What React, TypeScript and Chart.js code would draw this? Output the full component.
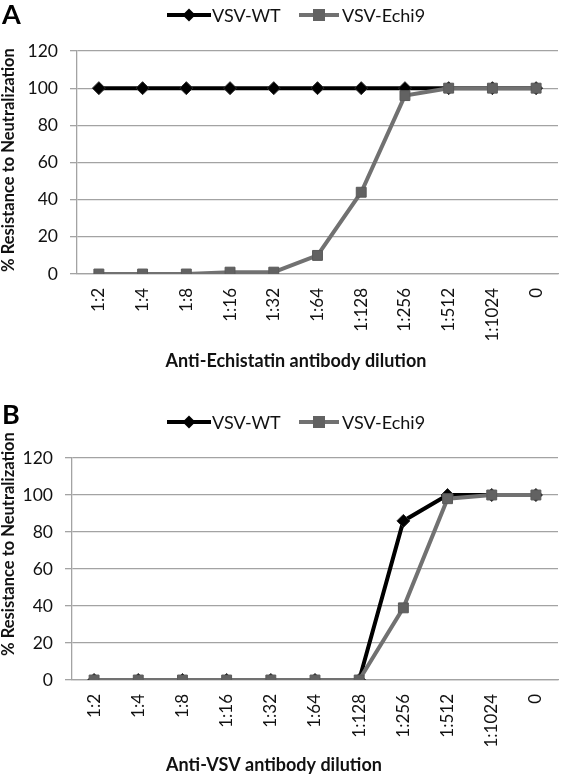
import React, { useEffect, useRef } from 'react';
import { Chart, registerables } from 'chart.js';

Chart.register(...registerables);

// ---- data ----
const categories = ['1:2', '1:4', '1:8', '1:16', '1:32', '1:64', '1:128', '1:256', '1:512', '1:1024', '0'];
const seriesNames = ['VSV-WT', 'VSV-Echi9'];
const panelA_wt = [100, 100, 100, 100, 100, 100, 100, 100, 100, 100, 100];
const panelA_echi9 = [0, 0, 0, 1, 1, 10, 44, 96, 100, 100, 100];
const panelB_wt = [0, 0, 0, 0, 0, 0, 0, 86, 100, 100, 100];
const panelB_echi9 = [0, 0, 0, 0, 0, 0, 0, 39, 98, 100, 100];
const yMin = 0;
const yMax = 120;
const yStep = 20;
const yTitle = '% Resistance to Neutralization';
const xTitleA = 'Anti-Echistatin antibody dilution';
const xTitleB = 'Anti-VSV antibody dilution';

const FONT = 'Lato, "Open Sans", "Liberation Sans", sans-serif';
const W = 566;
const GRID = '#a3a3a3';
const WT_COLOR = '#000000';
const ECHI_LINE = '#717171';
const ECHI_FILL = '#626262';

const headerPlugin = {
  id: 'header',
  afterDraw(chart: any, _args: any, opts: any) {
    const ctx = chart.ctx as CanvasRenderingContext2D;
    ctx.save();
    // panel letter
    ctx.fillStyle = '#000';
    ctx.font = `bold 27px ${FONT}`;
    ctx.textBaseline = 'alphabetic';
    ctx.textAlign = 'left';
    ctx.fillText(opts.letter, opts.letterX, opts.letterY);

    const y = opts.legendY;
    // WT legend item
    ctx.strokeStyle = WT_COLOR;
    ctx.lineWidth = 4;
    ctx.beginPath();
    ctx.moveTo(opts.wtX, y);
    ctx.lineTo(opts.wtX + 44, y);
    ctx.stroke();
    const dx = opts.wtX + 22;
    ctx.fillStyle = WT_COLOR;
    ctx.beginPath();
    ctx.moveTo(dx, y - 6.5);
    ctx.lineTo(dx + 6.5, y);
    ctx.lineTo(dx, y + 6.5);
    ctx.lineTo(dx - 6.5, y);
    ctx.closePath();
    ctx.fill();
    ctx.font = `18px ${FONT}`;
    ctx.fillStyle = '#111';
    ctx.textBaseline = 'middle';
    ctx.fillText(seriesNames[0], opts.wtX + 45, y + 1);

    // Echi9 legend item
    ctx.strokeStyle = ECHI_LINE;
    ctx.beginPath();
    ctx.moveTo(opts.echiX, y);
    ctx.lineTo(opts.echiX + 40, y);
    ctx.stroke();
    ctx.fillStyle = ECHI_FILL;
    ctx.fillRect(opts.echiX + 14, y - 6, 12, 12);
    ctx.fillStyle = '#111';
    ctx.fillText(seriesNames[1], opts.echiX + 43, y + 1);

    // x axis title
    ctx.font = `bold 18px ${FONT}`;
    ctx.textAlign = 'center';
    ctx.textBaseline = 'middle';
    ctx.fillText(opts.xTitle, opts.xTitleX, opts.xTitleY);

    // y axis title
    ctx.font = `bold 16.5px ${FONT}`;
    ctx.translate(opts.yTitleX, opts.yTitleY);
    ctx.rotate(-Math.PI / 2);
    ctx.fillText(yTitle, 0, 0);
    ctx.restore();
  },
};

type PanelProps = {
  letter: string;
  wt: number[];
  echi: number[];
  xTitle: string;
  height: number;
  area: { left: number; right: number; top: number; bottom: number };
  legendY: number;
  letterY: number;
  xTitleX: number;
  xTitleY: number;
  yTitleY: number;
};

function Panel(props: PanelProps) {
  const ref = useRef<HTMLCanvasElement | null>(null);
  useEffect(() => {
    if (!ref.current) return;
    const { area, height } = props;
    const chart = new Chart(ref.current, {
      type: 'line',
      data: {
        labels: categories,
        datasets: [
          {
            label: seriesNames[0],
            data: props.wt,
            borderColor: WT_COLOR,
            backgroundColor: WT_COLOR,
            borderWidth: 4,
            pointStyle: 'rectRot',
            pointRadius: 6.5,
            pointBorderWidth: 1,
            pointBorderColor: '#2a2a2a',
            pointBackgroundColor: WT_COLOR,
            tension: 0,
            order: 1,
          },
          {
            label: seriesNames[1],
            data: props.echi,
            borderColor: ECHI_LINE,
            backgroundColor: ECHI_FILL,
            borderWidth: 4,
            pointStyle: 'rect',
            pointRadius: 7,
            pointBorderWidth: 1,
            pointBorderColor: '#5a5a5a',
            pointBackgroundColor: ECHI_FILL,
            tension: 0,
            order: 0,
          },
        ],
      },
      options: {
        animation: false,
        responsive: false,
        devicePixelRatio: 1,
        events: [],
        layout: { padding: { top: area.top, right: W - area.right, left: 0, bottom: 0 } },
        plugins: {
          legend: { display: false },
          tooltip: { enabled: false },
          header: {
            letter: props.letter,
            letterX: 2,
            letterY: props.letterY,
            legendY: props.legendY,
            wtX: 167,
            echiX: 299,
            xTitle: props.xTitle,
            xTitleX: props.xTitleX,
            xTitleY: props.xTitleY,
            yTitleX: 9,
            yTitleY: props.yTitleY,
          },
        } as any,
        scales: {
          x: {
            type: 'category',
            offset: true,
            grid: { display: false, drawTicks: false },
            border: { display: true, color: GRID, width: 1.3 },
            ticks: {
              minRotation: 90,
              maxRotation: 90,
              autoSkip: false,
              padding: 14,
              color: '#111',
              font: { family: FONT, size: 17 },
            },
            title: { display: false },
            afterFit: (s: any) => {
              s.height = height - area.bottom;
              s.paddingLeft = 0;
              s.paddingRight = 0;
            },
          },
          y: {
            min: yMin,
            max: yMax,
            ticks: {
              stepSize: yStep,
              padding: 12,
              color: '#111',
              font: { family: FONT, size: 17.5 },
            },
            grid: { color: GRID, lineWidth: 1.3, tickLength: 7, drawTicks: true },
            border: { display: true, color: GRID, width: 1.3 },
            title: { display: false },
            afterFit: (s: any) => {
              s.width = area.left;
            },
          },
        },
      } as any,
      plugins: [headerPlugin as any],
    });
    return () => chart.destroy();
  }, []);
  return (
    <canvas
      ref={ref}
      width={W}
      height={props.height}
      style={{ display: 'block', width: W, height: props.height }}
    />
  );
}

export default function App() {
  return (
    <div style={{ position: 'absolute', left: 0, top: 0, width: W, height: 776, background: '#fff' }}>
      <Panel
        letter="A"
        wt={panelA_wt}
        echi={panelA_echi9}
        xTitle={xTitleA}
        height={390}
        area={{ left: 77, right: 565, top: 51, bottom: 274 }}
        legendY={15}
        letterY={24}
        xTitleX={296}
        xTitleY={361}
        yTitleY={160}
      />
      <Panel
        letter="B"
        wt={panelB_wt}
        echi={panelB_echi9}
        xTitle={xTitleB}
        height={386}
        area={{ left: 72, right: 564, top: 68, bottom: 290 }}
        legendY={32}
        letterY={34}
        xTitleX={274}
        xTitleY={375}
        yTitleY={154}
      />
    </div>
  );
}
